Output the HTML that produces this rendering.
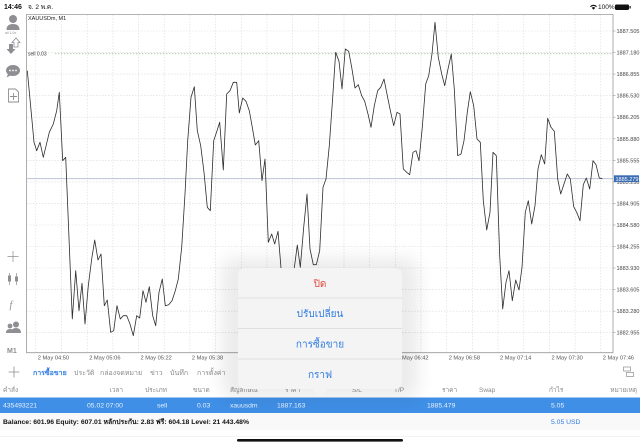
<!DOCTYPE html>
<html><head><meta charset="utf-8">
<style>
html,body{margin:0;padding:0;background:#fff;width:640px;height:447px;overflow:hidden}
svg{display:block;font-family:"Liberation Sans","Noto Sans CJK SC",sans-serif}
</style></head>
<body>
<svg width="640" height="447" viewBox="0 0 640 447" xmlns="http://www.w3.org/2000/svg">
<defs>
<filter id="blur" x="-50%" y="-50%" width="200%" height="200%"><feGaussianBlur stdDeviation="9"/></filter>
</defs>
<rect width="640" height="447" fill="#fff"/>

<!-- status bar -->
<text x="4" y="9" font-size="7" fill="#111" font-weight="bold">14:46</text>
<text x="28" y="9" font-size="6.5" fill="#111">จ. 2 พ.ค.</text>
<g fill="#111">
<path d="M590 6.2 a5 5 0 0 1 7 0 l-0.8 0.8 a4 4 0 0 0 -5.4 0z"/>
<path d="M591.7 7.8 a2.6 2.6 0 0 1 3.6 0 l-1.8 1.9z"/>
</g>
<text x="598" y="9" font-size="6.5" fill="#111">100%</text>
<rect x="615" y="4.5" width="14" height="5.5" rx="1.2" fill="#111"/>
<rect x="629.5" y="6" width="1.2" height="2.5" fill="#111"/>

<!-- grid -->
<g stroke="#d9d9d9" stroke-width="0.6" stroke-dasharray="1.5 1.5">
<line x1="27" x2="613" y1="31" y2="31"/><line x1="27" x2="613" y1="52.6" y2="52.6"/><line x1="27" x2="613" y1="74.1" y2="74.1"/><line x1="27" x2="613" y1="95.7" y2="95.7"/><line x1="27" x2="613" y1="117.2" y2="117.2"/><line x1="27" x2="613" y1="138.8" y2="138.8"/><line x1="27" x2="613" y1="160.3" y2="160.3"/><line x1="27" x2="613" y1="181.9" y2="181.9"/><line x1="27" x2="613" y1="203.4" y2="203.4"/><line x1="27" x2="613" y1="225" y2="225"/><line x1="27" x2="613" y1="246.5" y2="246.5"/><line x1="27" x2="613" y1="268" y2="268"/><line x1="27" x2="613" y1="289.6" y2="289.6"/><line x1="27" x2="613" y1="311.2" y2="311.2"/><line x1="27" x2="613" y1="332.7" y2="332.7"/>
<line x1="35.8" x2="35.8" y1="15" y2="352"/><line x1="61.5" x2="61.5" y1="15" y2="352"/><line x1="87.2" x2="87.2" y1="15" y2="352"/><line x1="112.9" x2="112.9" y1="15" y2="352"/><line x1="138.5" x2="138.5" y1="15" y2="352"/><line x1="164.2" x2="164.2" y1="15" y2="352"/><line x1="189.9" x2="189.9" y1="15" y2="352"/><line x1="215.6" x2="215.6" y1="15" y2="352"/><line x1="241.3" x2="241.3" y1="15" y2="352"/><line x1="266.9" x2="266.9" y1="15" y2="352"/><line x1="292.6" x2="292.6" y1="15" y2="352"/><line x1="318.3" x2="318.3" y1="15" y2="352"/><line x1="344" x2="344" y1="15" y2="352"/><line x1="369.7" x2="369.7" y1="15" y2="352"/><line x1="395.3" x2="395.3" y1="15" y2="352"/><line x1="421" x2="421" y1="15" y2="352"/><line x1="446.7" x2="446.7" y1="15" y2="352"/><line x1="472.4" x2="472.4" y1="15" y2="352"/><line x1="498" x2="498" y1="15" y2="352"/><line x1="523.8" x2="523.8" y1="15" y2="352"/><line x1="549.5" x2="549.5" y1="15" y2="352"/><line x1="575.1" x2="575.1" y1="15" y2="352"/><line x1="600.8" x2="600.8" y1="15" y2="352"/>
</g>

<!-- sell level line -->
<line x1="55" x2="613" y1="53.7" y2="53.7" stroke="#a9c9a4" stroke-width="0.8" stroke-dasharray="1.5 1.5"/>
<text x="28" y="55.5" font-size="5" fill="#333">sell 0.03</text>
<text x="28" y="20" font-size="5.5" fill="#222">XAUUSDm, M1</text>

<!-- current price line -->
<line x1="27" x2="613" y1="178.7" y2="178.7" stroke="#b3bccd" stroke-width="0.8"/>

<!-- price series -->
<polyline fill="none" stroke="#2d2d2d" stroke-width="0.8" stroke-linejoin="round" points="27.3,70.7 31.7,117.3 34,142.3 36.7,150.7 40,142.3 43.3,157.3 49.3,132.3 53.3,124 56.7,110.7 59.3,92.3 62.7,160.7 65.7,157.3 72.3,319 75.7,270.7 79,310.7 82,283.3 85,324 88.3,285.7 91.7,259 94.7,240 98,260 101,254 104.3,305.7 107.3,300 110.7,332.3 113.7,330.7 117,305.7 120.3,319 123.3,315.7 126.7,315.7 130,324 133.3,335.7 136.7,315.7 139.7,318 143,290.7 146,302.3 149.3,286.7 152.7,315.7 155.7,325.7 159,292.3 162.3,279 165.3,305.7 168.7,304.7 172,300.7 175.3,290.7 178.3,279 181.7,247.3 185,194 187.7,140.7 191,97.3 194.3,86.7 197.3,130.7 200.7,145.7 204,172.3 207.3,207.3 210.3,210.7 213.7,140.7 217,130.7 219.7,122.3 223.3,170 226.7,94 230,90.7 233.3,82.3 236.7,82.3 239.3,113 242.7,98 246,101.3 249.3,110.7 252.3,127.3 255.3,145 258.7,140.7 262,180.7 265,159 268.3,242.3 271.7,234 274.7,244 278,231.3 281,268 284.5,300 288,315 291,290 294.3,268 297.3,245 300.3,267.3 303.7,227.3 307,194 310,249 313.3,264.7 316.3,264.7 319.7,250.7 323,187.3 326,179 329.3,145.7 332.7,97.3 335.7,52.3 339,61.3 342,89 345.3,49 348.7,51.3 351.7,67.3 355,88 358.3,84.7 361.7,95.7 364.7,101.3 368,114 371,127.3 374.3,105.7 377.7,90.7 380.7,87.3 384,79 387.3,95.7 390.7,112.3 393.7,125.7 397,112.3 400,114 403.3,169 406.7,172.3 409.7,174.7 413,152.3 416,150.7 419,160.7 422.3,127.3 425.7,84 428.7,75.7 432,54 435,22.3 438.3,57.3 441.7,74 444.7,85.7 448,69 451.3,54 454.3,89 457.7,155.7 461,154 464,140.7 467.3,112.3 470.3,91.7 473.7,105.7 477,139 480.3,142.3 483.3,200.7 486.7,230 490,212.3 493,152.3 496.3,155.7 499.7,255.7 502.7,309 506,282.3 509,270.7 512.3,300.7 515.7,280 519,290 522,267.3 525.3,212.3 528.3,200.7 531.7,224 535,205.7 538,169 541.3,154.7 544.7,164 547.7,118.3 551,127.3 554.3,131.3 557.7,179 560.7,194 564,184 567.3,174 570.3,179 573.7,206.7 576.7,212.3 580,220.7 583.3,184.7 586.3,178 589.7,189 593,160.7 596,164.7 599.3,178 602.3,178.7"/>

<!-- chart frame -->
<path d="M26.5 14.5 H613 V352.7 H26.5 Z" fill="none" stroke="#9a9a9a" stroke-width="0.8"/>

<!-- y-axis labels -->
<g font-size="5.5" fill="#444">
<text x="616.5" y="33">1887.505</text>
<text x="616.5" y="54.6">1887.180</text>
<text x="616.5" y="76.1">1886.855</text>
<text x="616.5" y="97.7">1886.530</text>
<text x="616.5" y="119.2">1886.205</text>
<text x="616.5" y="140.8">1885.880</text>
<text x="616.5" y="162.3">1885.555</text>
<text x="616.5" y="183.9">1885.230</text>
<text x="616.5" y="205.4">1884.905</text>
<text x="616.5" y="227">1884.580</text>
<text x="616.5" y="248.5">1884.255</text>
<text x="616.5" y="270">1883.930</text>
<text x="616.5" y="291.6">1883.605</text>
<text x="616.5" y="313.2">1883.280</text>
<text x="616.5" y="334.7">1882.955</text>
</g>
<g stroke="#9a9a9a" stroke-width="0.6">
<line x1="613" x2="615.5" y1="31" y2="31"/><line x1="613" x2="615.5" y1="52.6" y2="52.6"/><line x1="613" x2="615.5" y1="74.1" y2="74.1"/><line x1="613" x2="615.5" y1="95.7" y2="95.7"/><line x1="613" x2="615.5" y1="117.2" y2="117.2"/><line x1="613" x2="615.5" y1="138.8" y2="138.8"/><line x1="613" x2="615.5" y1="160.3" y2="160.3"/><line x1="613" x2="615.5" y1="181.9" y2="181.9"/><line x1="613" x2="615.5" y1="203.4" y2="203.4"/><line x1="613" x2="615.5" y1="225" y2="225"/><line x1="613" x2="615.5" y1="246.5" y2="246.5"/><line x1="613" x2="615.5" y1="268" y2="268"/><line x1="613" x2="615.5" y1="289.6" y2="289.6"/><line x1="613" x2="615.5" y1="311.2" y2="311.2"/><line x1="613" x2="615.5" y1="332.7" y2="332.7"/>
</g>
<rect x="614" y="175.3" width="25" height="6.8" fill="#3a6db3"/>
<text x="615.5" y="180.8" font-size="5.5" fill="#fff">1885.279</text>

<!-- x-axis labels -->
<g font-size="5.7" fill="#555">
<text x="37.8" y="359.5">2 May 04:50</text>
<text x="89.2" y="359.5">2 May 05:06</text>
<text x="140.5" y="359.5">2 May 05:22</text>
<text x="191.9" y="359.5">2 May 05:38</text>
<text x="243.3" y="359.5">2 May 05:54</text>
<text x="294.6" y="359.5">2 May 06:10</text>
<text x="346" y="359.5">2 May 06:26</text>
<text x="397.3" y="359.5">2 May 06:42</text>
<text x="448.7" y="359.5">2 May 06:58</text>
<text x="500" y="359.5">2 May 07:14</text>
<text x="551.5" y="359.5">2 May 07:30</text>
<text x="602.8" y="359.5">2 May 07:46</text>
</g>

<!-- left toolbar -->
<g fill="#8e8e93">
<circle cx="13" cy="19" r="4"/>
<path d="M6.5 30 q0-6 6.5-6 q6.5 0 6.5 6z"/>
<text x="5" y="34" font-size="3.5" fill="#8e8e93">all 1.0x</text>
<path d="M9 44 h4 v5 h2.5 l-4.5 5 l-4.5 -5 h2.5z"/>
<path d="M16 38 l4 4.5 h-2 v4.5 h-4 v-4.5 h-2z" fill="none" stroke="#8e8e93" stroke-width="0.8"/>
<ellipse cx="13" cy="70.5" rx="7" ry="5.5"/>
<path d="M8 74 l-1.5 3.5 l4 -2z"/>
<circle cx="10" cy="70.5" r="0.9" fill="#fff"/><circle cx="13" cy="70.5" r="0.9" fill="#fff"/><circle cx="16" cy="70.5" r="0.9" fill="#fff"/>
</g>
<g fill="none" stroke="#8e8e93" stroke-width="0.9">
<path d="M8.5 89 h7 l3 3 v10 h-10z"/>
<path d="M13.5 93 v7 M10 96.5 h7"/>
<path d="M13 251 v11 M7.5 256.5 h11" stroke-width="0.7"/>
<path d="M9.5 273 v12 M16.5 273 v12" stroke-width="0.7"/>
</g>
<g fill="#8e8e93">
<rect x="8" y="275.5" width="3" height="6"/>
<rect x="15" y="276.5" width="3" height="5"/>
<text x="9.5" y="308" font-size="10" font-style="italic" font-family="Liberation Serif, serif">f</text>
<circle cx="16" cy="324.5" r="3"/>
<path d="M11 333 q0-5 5-5 q5 0 5 5z"/>
<circle cx="10" cy="326" r="2.4"/>
<path d="M6 333 q0-4 4-4 q4 0 4 4z"/>
<text x="7" y="353" font-size="7" fill="#8e8e93" font-weight="bold">M1</text>
</g>

<!-- tab bar -->
<path d="M14 366.5 v11 M8.5 372 h11" stroke="#8e8e93" stroke-width="0.8"/>
<g font-size="7">
<text x="33" y="375" fill="#2f7be0" font-weight="bold">การซื้อขาย</text>
<text x="74" y="375" fill="#8a8a8e">ประวัติ</text>
<text x="100" y="375" fill="#8a8a8e">กล่องจดหมาย</text>
<text x="150" y="375" fill="#8a8a8e">ข่าว</text>
<text x="170" y="375" fill="#8a8a8e">บันทึก</text>
<text x="197" y="375" fill="#8a8a8e">การตั้งค่า</text>
</g>
<g fill="none" stroke="#8e8e93" stroke-width="0.7">
<rect x="623.5" y="367" width="7" height="4"/>
<rect x="626.5" y="372.5" width="7" height="4"/>
</g>

<!-- table header -->
<g font-size="6.5" fill="#8a8a8e">
<text x="3" y="392">คำสั่ง</text>
<text x="123" y="392" text-anchor="end">เวลา</text>
<text x="145" y="392">ประเภท</text>
<text x="193" y="392">ขนาด</text>
<text x="230" y="392">สัญลักษณ์</text>
<text x="285" y="392">ราคา</text>
<text x="352" y="392">S/L</text>
<text x="394" y="392">T/P</text>
<text x="442" y="392">ราคา</text>
<text x="479" y="392">Swap</text>
<text x="549" y="392">กำไร</text>
<text x="637" y="392" text-anchor="end">หมายเหตุ</text>
</g>

<!-- selected row -->
<rect x="0" y="397.5" width="640" height="15.5" fill="#3f8fe6"/>
<g font-size="6.8" fill="#e8f1fc">
<text x="3" y="407.5">435493221</text>
<text x="87" y="407.5">05.02 07:00</text>
<text x="157" y="407.5">sell</text>
<text x="197" y="407.5">0.03</text>
<text x="230" y="407.5">xauusdm</text>
<text x="277" y="407.5">1887.163</text>
<text x="427" y="407.5">1885.479</text>
<text x="551" y="407.5">5.05</text>
</g>

<!-- balance row -->
<rect x="0" y="413" width="640" height="17" fill="#f9f9f9"/>
<text x="3" y="424" font-size="6.8" font-weight="bold" fill="#111">Balance: 601.96 Equity: 607.01 หลักประกัน: 2.83 ฟรี: 604.18 Level: 21 443.48%</text>
<text x="551" y="424" font-size="6.8" fill="#2f7be0">5.05  USD</text>
<line x1="0" x2="640" y1="436.5" y2="436.5" stroke="#e8e8e8" stroke-width="0.6"/>
<rect x="237" y="439" width="166" height="2.6" rx="1.3" fill="#111"/>

<!-- popup halo -->
<rect x="222" y="258" width="196" height="140" rx="10" fill="#000" opacity="0.08" filter="url(#blur)"/>
<!-- popup -->
<rect x="238" y="268" width="164" height="121" rx="7" fill="#f4f4f4"/>
<polygon points="312,388.5 328,388.5 320,397" fill="#f4f4f4"/>
<g stroke="#d9d9d9" stroke-width="0.7">
<line x1="238" x2="402" y1="298" y2="298"/>
<line x1="238" x2="402" y1="328.5" y2="328.5"/>
<line x1="238" x2="402" y1="359" y2="359"/>
</g>
<g font-size="10" text-anchor="middle">
<text x="320" y="287" fill="#e5463d">ปิด</text>
<text x="320" y="317" fill="#2f7be0">ปรับเปลี่ยน</text>
<text x="320" y="347.5" fill="#2f7be0">การซื้อขาย</text>
<text x="320" y="378" fill="#2f7be0">กราฟ</text>
</g>
</svg>
</body></html>
